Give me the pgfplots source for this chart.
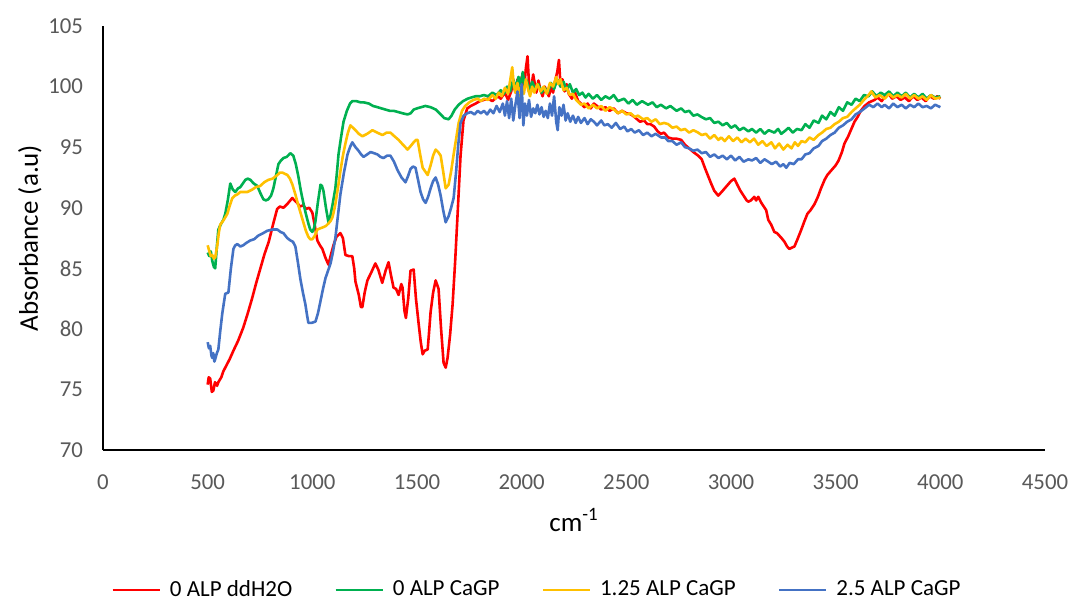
\documentclass[border=0pt]{standalone}
\usepackage{fontspec}
\setmainfont{Carlito}
\usepackage{pgfplots}
\pgfplotsset{compat=1.18}
\definecolor{cred}{HTML}{FF0000}
\definecolor{cgreen}{HTML}{00B050}
\definecolor{cyellow}{HTML}{FFC000}
\definecolor{cblue}{HTML}{4472C4}
\definecolor{tickgray}{HTML}{595959}
\begin{document}
\begin{tikzpicture}
\useasboundingbox (-51.5pt,-76pt) rectangle (485.5pt,225pt);
\begin{axis}[
  at={(0,0)}, anchor=south west,
  scale only axis, width=471pt, height=212pt,
  xmin=0, xmax=4500, ymin=70, ymax=105,
  xtick={0,500,...,4500}, ytick={70,75,...,105},
  axis x line=bottom, axis y line=left,
  axis line style={-, black, line width=0.8pt},
  major tick length=0pt,
  /pgf/number format/assume math mode=true,
  /pgf/number format/set thousands separator={},
  ticklabel style={font=\fontsize{11.4}{13}\selectfont, text=tickgray},
  xticklabel style={yshift=-9pt},
  yticklabel style={xshift=-6.5pt},
  xlabel={cm\textsuperscript{-1}},
  ylabel={Absorbance (a.u)},
  xlabel style={font=\fontsize{13.5}{15}\selectfont, at={(axis description cs:0.5,-0.165)}, anchor=center},
  ylabel style={font=\fontsize{13.5}{15}\selectfont, at={(axis description cs:-0.0777,0.50)}, anchor=center},
  legend columns=4,
  legend style={draw=none, at={(axis description cs:0.4617,-0.330)}, anchor=center,
    font=\fontsize{11.5}{13}\selectfont,
    /tikz/every even column/.append style={column sep=19pt},
    /tikz/every odd column/.append style={column sep=2.5pt}},
  legend image code/.code={\draw[#1] (0pt,0pt) -- (23.5pt,0pt);},
  every axis plot/.append style={line width=1.3pt, line join=round, mark=none},
]
\addplot[cred] coordinates {
(500,75.4)(505,76.0)(512,75.9)(520,74.8)(527,74.9)(535,75.6)(545,75.3)(551,75.6)(565,76.0)(575,76.5)(590,77.0)(605,77.5)(623,78.2)(645,79.0)(670,80.1)(690,81.2)(712,82.5)(732,83.8)(752,85.0)(772,86.2)(792,87.2)(812,88.6)(832,89.9)(845,90.1)(862,90.0)(880,90.3)(904,90.8)(915,90.6)(928,90.4)(940,90.1)(957,90.2)(970,89.9)(985,90.0)(1000,89.6)(1012,88.5)(1024,87.3)(1036,86.9)(1048,86.6)(1062,85.9)(1077,85.3)(1090,86.2)(1101,86.9)(1115,87.6)(1134,87.9)(1146,87.5)(1158,86.1)(1175,86.0)(1191,86.0)(1200,85.0)(1206,83.9)(1222,82.8)(1232,81.8)(1239,81.8)(1250,83.0)(1263,84.0)(1280,84.6)(1301,85.4)(1315,84.9)(1334,83.8)(1350,84.8)(1364,85.5)(1376,84.4)(1388,83.4)(1400,83.3)(1412,82.8)(1425,83.7)(1431,83.4)(1440,81.5)(1447,80.9)(1458,82.5)(1469,84.8)(1484,84.9)(1495,82.5)(1508,80.4)(1518,78.9)(1527,77.9)(1537,78.2)(1551,78.3)(1558,79.8)(1565,81.4)(1577,83.0)(1589,84.0)(1603,83.3)(1615,80.0)(1627,77.2)(1637,76.8)(1646,77.6)(1658,79.5)(1670,82.0)(1682,85.5)(1694,89.5)(1708,94.3)(1722,97.2)(1740,98.2)(1757,98.4)(1780,98.6)(1800,98.8)(1819,98.9)(1840,99.0)(1860,98.8)(1886,99.2)(1900,99.0)(1920,99.5)(1935,98.9)(1950,99.6)(1960,100.4)(1970,99.5)(1980,100.6)(1990,99.4)(2000,100.8)(2010,99.5)(2020,101.5)(2028,102.5)(2035,100.2)(2045,99.8)(2055,101.0)(2062,100.3)(2070,99.5)(2080,100.5)(2090,99.7)(2100,99.2)(2110,100.0)(2120,99.6)(2130,99.2)(2140,100.0)(2150,99.5)(2160,100.5)(2170,101.2)(2178,102.2)(2186,100.0)(2195,100.6)(2205,99.6)(2215,100.2)(2225,99.4)(2240,99.0)(2255,99.5)(2270,98.8)(2283,98.6)(2300,98.3)(2315,98.6)(2330,98.2)(2345,98.6)(2360,98.4)(2380,98.1)(2400,98.3)(2420,98.0)(2440,98.2)(2460,97.8)(2480,98.0)(2500,97.8)(2523,97.7)(2545,97.4)(2565,97.1)(2585,97.2)(2600,96.9)(2615,96.9)(2633,96.7)(2650,96.3)(2665,96.1)(2680,96.2)(2700,95.8)(2720,95.7)(2740,95.7)(2762,95.6)(2780,95.2)(2800,94.9)(2820,94.6)(2843,94.3)(2860,94.0)(2875,93.3)(2891,92.6)(2905,92.0)(2920,91.4)(2939,91.0)(2955,91.3)(2970,91.6)(2985,91.9)(3000,92.2)(3016,92.4)(3030,91.9)(3045,91.4)(3060,91.0)(3075,90.6)(3083,90.5)(3095,90.6)(3111,90.9)(3120,90.6)(3130,90.9)(3145,90.4)(3168,89.8)(3178,89.0)(3192,88.6)(3207,88.0)(3220,87.9)(3241,87.5)(3255,87.2)(3268,86.8)(3279,86.6)(3290,86.7)(3303,86.8)(3320,87.5)(3336,88.2)(3351,88.9)(3365,89.5)(3380,89.8)(3399,90.3)(3415,90.9)(3430,91.6)(3447,92.3)(3460,92.7)(3480,93.1)(3500,93.5)(3514,93.9)(3530,94.6)(3542,95.3)(3560,95.9)(3575,96.5)(3590,97.1)(3605,97.5)(3620,98.0)(3638,98.4)(3660,98.7)(3686,98.9)(3700,99.1)(3720,98.8)(3740,99.3)(3753,99.4)(3770,99.0)(3790,99.2)(3810,98.9)(3830,99.1)(3850,98.8)(3870,99.2)(3890,98.9)(3910,99.1)(3930,98.8)(3950,99.2)(3970,99.0)(3985,99.2)(4000,99.0)
};
\addlegendentry{0 ALP ddH2O}
\addplot[cgreen] coordinates {
(500,86.3)(508,86.0)(515,86.4)(522,85.6)(530,85.1)(536,85.0)(544,86.8)(551,88.2)(565,88.7)(575,89.0)(584,89.5)(596,90.6)(608,92.0)(620,91.5)(632,91.3)(645,91.6)(656,91.7)(668,92.0)(680,92.3)(692,92.4)(704,92.3)(720,92.0)(737,91.8)(752,91.2)(766,90.7)(778,90.6)(790,90.7)(803,91.0)(814,91.6)(826,92.6)(838,93.6)(850,93.9)(862,94.1)(878,94.2)(895,94.5)(909,94.3)(921,93.6)(933,92.6)(945,91.4)(957,90.4)(969,89.5)(981,88.7)(990,88.2)(1000,88.0)(1008,88.3)(1015,88.9)(1027,90.5)(1039,91.9)(1046,91.8)(1053,91.4)(1065,90.0)(1077,88.8)(1087,89.4)(1096,90.2)(1110,91.6)(1118,93.0)(1125,94.4)(1137,95.8)(1149,97.1)(1165,98.0)(1180,98.6)(1191,98.8)(1210,98.8)(1230,98.7)(1245,98.7)(1270,98.6)(1290,98.4)(1311,98.3)(1330,98.2)(1350,98.1)(1370,98.0)(1388,98.0)(1410,97.9)(1430,97.8)(1455,97.7)(1470,97.8)(1484,98.1)(1500,98.2)(1520,98.3)(1540,98.4)(1565,98.3)(1590,98.1)(1613,97.7)(1630,97.4)(1651,97.3)(1665,97.6)(1680,98.1)(1699,98.5)(1720,98.8)(1742,99.0)(1760,99.1)(1780,99.2)(1800,99.2)(1819,99.3)(1840,99.2)(1860,99.5)(1880,99.3)(1900,99.7)(1915,99.4)(1930,100.0)(1945,99.6)(1960,100.6)(1970,99.8)(1985,100.8)(1995,100.0)(2005,101.2)(2015,100.1)(2025,100.5)(2035,99.6)(2050,100.4)(2065,99.8)(2080,100.2)(2095,99.5)(2110,99.9)(2125,99.5)(2140,100.3)(2155,99.8)(2170,100.6)(2185,100.0)(2200,100.4)(2215,99.7)(2230,100.2)(2245,99.5)(2260,99.8)(2275,99.3)(2290,99.5)(2305,99.1)(2320,99.4)(2340,99.0)(2360,99.3)(2380,98.9)(2400,99.2)(2420,99.0)(2440,99.3)(2460,98.8)(2489,99.0)(2510,98.6)(2530,98.9)(2550,98.5)(2575,98.8)(2604,98.5)(2625,98.7)(2645,98.3)(2665,98.5)(2690,98.2)(2710,98.4)(2740,98.0)(2762,98.2)(2780,97.9)(2800,98.0)(2820,97.6)(2840,97.7)(2858,97.5)(2880,97.3)(2900,97.4)(2920,97.0)(2940,97.1)(2960,96.8)(2980,97.0)(3000,96.6)(3020,96.8)(3040,96.4)(3060,96.6)(3083,96.3)(3100,96.5)(3120,96.2)(3140,96.5)(3160,96.1)(3180,96.4)(3207,96.2)(3225,96.5)(3240,96.1)(3255,96.3)(3275,96.6)(3295,96.2)(3315,96.5)(3337,96.4)(3355,96.9)(3375,96.6)(3395,97.2)(3418,97.0)(3435,97.6)(3455,97.3)(3475,97.9)(3495,97.6)(3515,98.3)(3535,98.0)(3555,98.7)(3576,98.5)(3595,99.0)(3615,98.8)(3635,99.3)(3657,99.2)(3675,99.6)(3695,99.2)(3715,99.5)(3734,99.3)(3755,99.6)(3775,99.2)(3795,99.5)(3815,99.2)(3835,99.5)(3855,99.1)(3875,99.4)(3895,99.1)(3915,99.4)(3935,99.0)(3955,99.3)(3975,99.1)(4000,99.2)
};
\addlegendentry{0 ALP CaGP}
\addplot[cyellow] coordinates {
(500,86.9)(508,86.4)(515,86.0)(522,86.1)(530,85.8)(536,85.9)(546,86.9)(553,87.9)(560,88.6)(577,89.0)(594,89.5)(606,90.2)(618,90.8)(630,91.0)(642,91.1)(656,91.3)(670,91.3)(690,91.3)(713,91.5)(730,91.7)(751,91.8)(770,92.1)(790,92.3)(810,92.4)(833,92.7)(845,92.9)(857,92.9)(869,92.8)(881,92.7)(893,92.4)(905,91.9)(919,91.1)(933,90.2)(945,89.5)(957,88.8)(969,88.1)(981,87.6)(990,87.4)(1000,87.4)(1012,87.7)(1024,88.2)(1038,88.3)(1053,88.4)(1065,88.5)(1077,88.7)(1087,88.9)(1096,89.2)(1103,89.7)(1110,90.3)(1122,91.6)(1134,93.0)(1146,94.3)(1158,95.3)(1170,96.2)(1182,96.8)(1194,96.6)(1206,96.4)(1222,96.1)(1239,95.9)(1262,96.1)(1287,96.4)(1310,96.2)(1335,96.0)(1355,96.2)(1373,96.2)(1392,95.9)(1412,95.6)(1433,95.2)(1455,94.8)(1470,95.1)(1484,95.4)(1495,95.6)(1503,95.6)(1515,94.4)(1527,93.3)(1539,93.0)(1551,92.7)(1565,93.5)(1577,94.3)(1589,94.8)(1601,94.6)(1613,94.3)(1625,93.0)(1637,91.6)(1651,91.9)(1663,93.0)(1675,94.4)(1687,95.7)(1699,97.0)(1715,98.0)(1730,98.4)(1750,98.7)(1770,98.9)(1790,99.0)(1805,98.8)(1820,99.0)(1840,98.9)(1860,99.3)(1875,99.0)(1890,99.5)(1905,99.2)(1920,99.9)(1935,99.4)(1945,100.5)(1955,101.6)(1962,100.2)(1970,99.5)(1980,100.3)(1990,99.2)(2000,100.1)(2010,99.4)(2020,100.6)(2030,99.8)(2040,99.2)(2050,100.0)(2060,99.5)(2075,100.2)(2090,99.6)(2105,100.0)(2120,99.4)(2135,100.3)(2150,100.0)(2165,100.8)(2175,100.2)(2185,100.6)(2200,99.7)(2215,99.9)(2230,99.3)(2245,99.4)(2260,98.9)(2283,98.5)(2300,98.6)(2320,98.2)(2340,98.5)(2360,98.2)(2380,98.4)(2400,98.0)(2420,98.3)(2441,98.1)(2460,97.8)(2480,98.0)(2500,97.7)(2520,97.8)(2540,97.5)(2556,97.6)(2580,97.3)(2600,97.4)(2620,97.1)(2640,97.3)(2660,96.9)(2680,97.0)(2700,96.9)(2720,96.6)(2740,96.7)(2760,96.4)(2780,96.5)(2800,96.2)(2820,96.4)(2843,96.2)(2860,96.0)(2880,96.1)(2900,95.7)(2920,96.0)(2940,95.6)(2953,95.8)(2970,95.5)(2990,95.9)(3010,95.5)(3030,95.8)(3050,95.4)(3070,95.7)(3090,95.4)(3110,95.7)(3130,95.2)(3150,95.5)(3170,95.1)(3193,95.4)(3210,94.9)(3230,95.3)(3250,94.8)(3270,95.2)(3289,94.9)(3305,95.4)(3320,95.1)(3337,95.5)(3355,95.4)(3375,95.8)(3395,95.6)(3418,96.0)(3435,96.2)(3455,96.5)(3475,96.6)(3495,96.9)(3515,97.1)(3535,97.4)(3555,97.5)(3576,97.9)(3595,98.2)(3615,98.5)(3635,98.9)(3657,99.3)(3670,99.6)(3690,99.1)(3710,99.3)(3734,99.0)(3755,99.4)(3775,99.1)(3795,99.3)(3815,99.1)(3835,99.4)(3855,99.0)(3875,99.3)(3895,99.0)(3915,99.2)(3935,98.9)(3955,99.3)(3975,99.0)(4000,99.1)
};
\addlegendentry{1.25 ALP CaGP}
\addplot[cblue] coordinates {
(500,78.9)(506,78.4)(512,78.6)(518,77.8)(522,77.6)(527,78.0)(532,77.3)(536,77.5)(544,78.0)(551,78.3)(560,79.8)(570,81.3)(584,82.9)(599,83.0)(611,85.0)(623,86.6)(632,86.9)(642,87.0)(656,86.8)(670,86.9)(685,87.1)(704,87.3)(722,87.4)(742,87.7)(765,87.9)(785,88.1)(810,88.2)(833,88.2)(848,88.0)(862,87.9)(880,87.5)(895,87.3)(907,87.2)(919,86.8)(931,85.5)(943,84.1)(955,83.0)(967,82.0)(975,81.1)(981,80.5)(998,80.5)(1015,80.6)(1027,81.3)(1039,82.3)(1051,83.3)(1063,84.2)(1075,84.8)(1087,85.4)(1098,86.3)(1110,87.5)(1122,89.3)(1134,91.1)(1151,92.9)(1168,94.4)(1180,95.0)(1191,95.4)(1206,95.0)(1221,94.7)(1233,94.4)(1245,94.2)(1262,94.4)(1278,94.6)(1295,94.5)(1311,94.4)(1325,94.2)(1340,94.1)(1357,94.3)(1373,94.3)(1390,93.8)(1407,93.1)(1426,92.5)(1445,92.1)(1457,92.6)(1469,93.2)(1481,93.4)(1493,93.3)(1505,92.3)(1517,91.3)(1529,90.7)(1541,90.4)(1553,90.9)(1565,91.6)(1577,92.2)(1589,92.5)(1601,91.9)(1613,91.0)(1625,89.8)(1637,88.8)(1651,89.3)(1663,90.0)(1675,90.8)(1687,93.0)(1697,95.2)(1708,97.0)(1723,97.6)(1740,97.8)(1757,97.9)(1775,97.7)(1790,98.0)(1805,97.8)(1820,98.0)(1835,97.7)(1850,98.1)(1865,97.8)(1880,98.4)(1895,97.9)(1910,98.6)(1920,97.6)(1930,98.8)(1940,97.4)(1950,99.0)(1960,97.2)(1970,98.5)(1980,99.6)(1990,97.4)(2000,100.2)(2008,96.8)(2016,98.6)(2025,97.6)(2035,98.9)(2045,97.5)(2055,98.2)(2065,97.8)(2075,98.5)(2085,97.7)(2095,98.3)(2105,97.5)(2115,98.0)(2125,97.4)(2135,98.6)(2145,97.6)(2155,99.2)(2165,97.1)(2172,96.4)(2180,98.3)(2190,97.6)(2200,98.5)(2210,97.2)(2220,97.8)(2232,97.1)(2245,97.6)(2258,97.0)(2270,97.5)(2283,97.0)(2300,97.4)(2315,96.9)(2330,97.3)(2345,97.1)(2360,96.8)(2380,97.2)(2395,96.8)(2412,96.9)(2430,96.6)(2450,97.0)(2470,96.5)(2490,96.7)(2505,96.3)(2523,96.5)(2540,96.2)(2560,96.4)(2580,96.0)(2600,96.2)(2620,95.9)(2640,96.1)(2666,95.8)(2685,95.8)(2700,95.5)(2720,95.5)(2740,95.2)(2762,95.4)(2780,95.0)(2800,94.9)(2820,94.7)(2840,94.8)(2860,94.5)(2880,94.6)(2900,94.2)(2920,94.4)(2940,94.1)(2960,94.3)(2980,94.0)(3000,94.3)(3020,93.9)(3040,94.2)(3060,93.8)(3083,94.0)(3100,93.9)(3120,94.1)(3140,93.7)(3160,94.0)(3178,93.8)(3195,93.6)(3215,93.8)(3235,93.4)(3250,93.6)(3264,93.3)(3280,93.7)(3300,93.6)(3320,94.0)(3337,94.0)(3355,94.4)(3375,94.5)(3395,94.9)(3418,95.1)(3435,95.5)(3455,95.7)(3475,96.0)(3495,96.2)(3515,96.6)(3535,96.8)(3555,97.1)(3576,97.3)(3595,97.7)(3615,97.9)(3638,98.2)(3660,98.5)(3680,98.3)(3700,98.6)(3720,98.3)(3734,98.5)(3755,98.2)(3775,98.6)(3795,98.3)(3815,98.5)(3835,98.2)(3855,98.5)(3875,98.3)(3895,98.6)(3915,98.3)(3935,98.4)(3955,98.2)(3975,98.5)(4000,98.3)
};
\addlegendentry{2.5 ALP CaGP}
\end{axis}
\end{tikzpicture}
\end{document}
